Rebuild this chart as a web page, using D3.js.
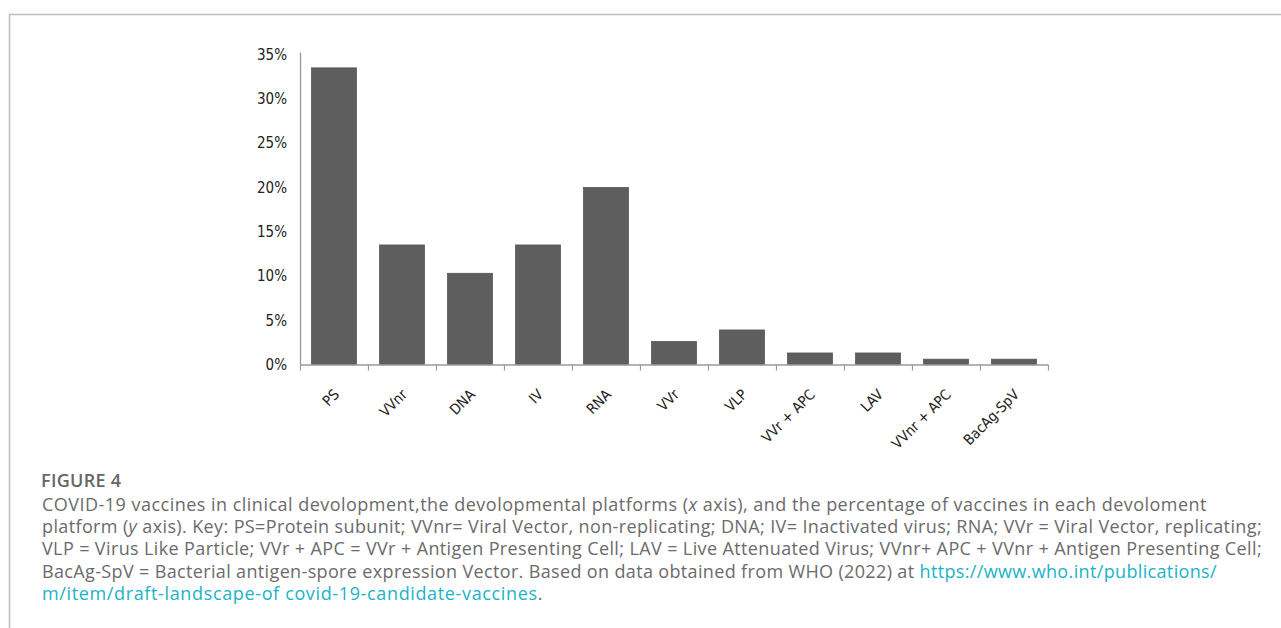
<!DOCTYPE html>
<html>
<head>
<meta charset="utf-8">
<script src="https://cdn.jsdelivr.net/npm/d3@7"></script>
<style>
  body { margin: 0; background: #fff; }
  svg { display: block; }
</style>
</head>
<body>
<div id="chart"></div>
<script>
// platforms and share of vaccines (%)
var platforms = ['PS', 'VVnr', 'DNA', 'IV', 'RNA', 'VVr', 'VLP', 'VVr + APC', 'LAV', 'VVnr + APC', 'BacAg-SpV'];
var shares = [33.5, 13.5, 10.3, 13.5, 20.0, 2.6, 3.9, 1.3, 1.3, 0.6, 0.6];
var yTicks = [0, 5, 10, 15, 20, 25, 30, 35];

var W = 1281, H = 628;
var margin = { top: 54.6, left: 300, right: 233, bottom: 263.5 };
var width = W - margin.left - margin.right,
    height = H - margin.top - margin.bottom;

var svg = d3.select('#chart')
    .append('svg')
    .attr('width', W)
    .attr('height', H);

// frame of the figure box
svg.append('path')
    .attr('d', 'M9.5,' + H + 'V14.5H' + W)
    .style('fill', 'none')
    .style('stroke', '#bdbdbd')
    .style('stroke-width', 1.5);

var graph = svg.append('g')
    .attr('transform', 'translate(' + margin.left + ',' + margin.top + ')');

var xS = d3.scaleBand()
    .domain(platforms)
    .range([0, width])
    .paddingInner(0.34)
    .paddingOuter(0.17);

var yS = d3.scaleLinear()
    .domain([0, 35])
    .range([height, 0]);

graph.selectAll('rect')
    .data(shares)
    .enter()
    .append('rect')
    .attr('x', function(d, i) { return xS(platforms[i]); })
    .attr('y', function(d) { return yS(d); })
    .attr('width', xS.bandwidth())
    .attr('height', function(d) { return height - yS(d); })
    .style('fill', '#5e5e5e')
    .style('stroke', '#555')
    .style('stroke-width', 0.8);

// y axis: line and labels only
var yAxis = graph.append('g')
    .call(d3.axisLeft(yS).tickValues(yTicks).tickSize(0).tickPadding(13)
        .tickFormat(function(d) { return d + '%'; }));
yAxis.select('.domain').attr('d', 'M0.5,' + (height + 0.5) + 'V-2').style('stroke', '#9a9a9a').style('stroke-width', 1.3);
yAxis.selectAll('text')
    .style('font-family', '"DejaVu Sans Condensed", "DejaVu Sans", sans-serif')
    .style('font-size', '15px')
    .style('fill', '#222');

// x axis: tick marks sit on category boundaries
var step = xS.step();
var xAxis = graph.append('g')
    .attr('transform', 'translate(0,' + height + ')');
xAxis.append('line')
    .attr('x1', 0).attr('x2', width)
    .attr('y1', 0.5).attr('y2', 0.5)
    .style('stroke', '#9a9a9a').style('stroke-width', 1.3);
xAxis.selectAll('.tick')
    .data(d3.range(platforms.length + 1))
    .enter().append('line')
    .attr('class', 'tick')
    .attr('x1', function(d) { return d * step + 0.5; })
    .attr('x2', function(d) { return d * step + 0.5; })
    .attr('y1', 0).attr('y2', 6)
    .style('stroke', '#9a9a9a').style('stroke-width', 1.2);
xAxis.selectAll('.lab')
    .data(platforms)
    .enter().append('text')
    .attr('class', 'lab')
    .attr('transform', function(d) {
        return 'translate(' + (xS(d) + xS.bandwidth() / 2 + 6) + ',31) rotate(-45)';
    })
    .attr('text-anchor', 'end')
    .style('font-family', '"DejaVu Sans Condensed", "DejaVu Sans", sans-serif')
    .style('font-size', '14.5px')
    .style('fill', '#222')
    .text(function(d) { return d; });

// caption
var cap = svg.append('g')
    .style('font-family', '"Open Sans", sans-serif')
    .style('font-size', '18px')
    .style('fill', '#6b6b6b');
cap.append('text')
    .attr('x', 41).attr('y', 487)
    .style('font-weight', 600)
    .style('fill', '#666')
    .style('letter-spacing', '0.3px')
    .text('FIGURE 4');

var linkColor = '#1ab3c8';
var lines = [
    [['COVID-19 vaccines in clinical devolopment,the devolopmental platforms ('], ['x', 'i'], [' axis), and the percentage of vaccines in each devoloment']],
    [['platform ('], ['y', 'i'], [' axis). Key: PS=Protein subunit; VVnr= Viral Vector, non-replicating; DNA; IV= Inactivated virus; RNA; VVr = Viral Vector, replicating;']],
    [['VLP = Virus Like Particle; VVr + APC = VVr + Antigen Presenting Cell; LAV = Live Attenuated Virus; VVnr+ APC + VVnr + Antigen Presenting Cell;']],
    [['BacAg-SpV = Bacterial antigen-spore expression Vector. Based on data obtained from WHO (2022) at '], ['https://www.who.int/publications/', 'a']],
    [['m/item/draft-landscape-of covid-19-candidate-vaccines', 'a'], ['.']]
];
// right edge of each caption line in the reference
var lineEnds = [1207, 1262, 1262, 1217, 543];
lines.forEach(function(parts, li) {
    var t = cap.append('text')
        .attr('x', 42)
        .attr('y', 511 + li * 22.2);
    parts.forEach(function(p) {
        var s = t.append('tspan').text(p[0]);
        if (p[1] === 'i') s.style('font-style', 'italic');
        if (p[1] === 'a') s.style('fill', linkColor);
    });
    var len = t.node().getComputedTextLength();
    var n = t.text().length;
    t.style('letter-spacing', ((lineEnds[li] - 42 - len) / n) + 'px');
});
</script>
</body>
</html>
